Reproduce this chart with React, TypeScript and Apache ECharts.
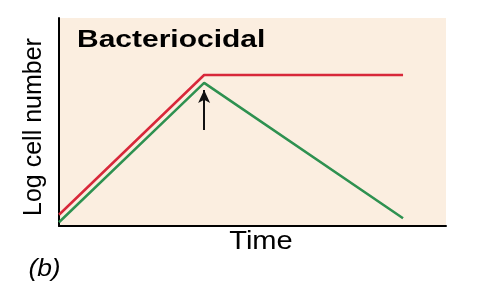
import React, { useEffect, useRef } from "react";
import * as echarts from "echarts";

// Time (arbitrary units 0..100) and log cell number (arbitrary 0..100)
const timePoints = [0, 37.5, 88.9];
const controlSeries = [5.4, 72.6, 72.6]; // red
const bactericidalSeries = [1.8, 68.8, 3.7]; // green
const arrowTime = 37.5;
const arrowFromTo = [46.2, 65.4];

const titleText = "Bacteriocidal";
const xAxisName = "Time";
const yAxisName = "Log cell number";
const panelLabel = "(b)";

export default function App() {
  const ref = useRef<HTMLDivElement>(null);
  useEffect(() => {
    if (!ref.current) return;
    const chart = echarts.init(ref.current, null, { renderer: "svg" });
    const font = "Liberation Sans, Arial, Helvetica, sans-serif";
    chart.setOption({
      animation: false,
      grid: {
        left: 59,
        top: 18,
        width: 387,
        height: 208,
        show: true,
        backgroundColor: "#fbeee0",
        borderWidth: 0,
      },
      xAxis: {
        type: "value",
        min: 0,
        max: 100,
        axisLine: { show: true, lineStyle: { color: "#000", width: 2 } },
        axisTick: { show: false },
        axisLabel: { show: false },
        splitLine: { show: false },
      },
      yAxis: {
        type: "value",
        min: 0,
        max: 100,
        axisLine: { show: true, lineStyle: { color: "#000", width: 2 } },
        axisTick: { show: false },
        axisLabel: { show: false },
        splitLine: { show: false },
      },
      series: [
        {
          type: "line",
          data: timePoints.map((t, i) => [t, controlSeries[i]]),
          symbol: "none",
          lineStyle: { color: "#d8283a", width: 2.5 },
          z: 3,
        },
        {
          type: "line",
          data: timePoints.map((t, i) => [t, bactericidalSeries[i]]),
          symbol: "none",
          lineStyle: { color: "#2e9150", width: 2.5 },
          z: 3,
          markLine: {
            silent: true,
            symbol: ["none", "arrow"],
            symbolSize: [9, 13],
            label: { show: false },
            lineStyle: { color: "#111", width: 2, type: "solid" },
            data: [
              [
                { coord: [arrowTime, arrowFromTo[0]] },
                { coord: [arrowTime, arrowFromTo[1]] },
              ],
            ],
          },
        },
      ],
      graphic: [
        {
          type: "text",
          x: 77,
          y: 38.5,
          scaleX: 1.25,
          style: {
            text: titleText,
            font: `bold 24px ${font}`,
            fill: "#000",
            align: "left",
            verticalAlign: "middle",
          },
        },
        {
          type: "text",
          x: 261,
          y: 240,
          scaleX: 1.12,
          style: {
            text: xAxisName,
            font: `26px ${font}`,
            fill: "#000",
            align: "center",
            verticalAlign: "middle",
          },
        },
        {
          type: "text",
          x: 32,
          y: 127,
          rotation: Math.PI / 2,
          style: {
            text: yAxisName,
            font: `25px ${font}`,
            fill: "#000",
            align: "center",
            verticalAlign: "middle",
          },
        },
        {
          type: "text",
          x: 44.5,
          y: 267,
          scaleX: 1.1,
          style: {
            text: panelLabel,
            font: `italic 24px ${font}`,
            fill: "#000",
            align: "center",
            verticalAlign: "middle",
          },
        },
      ],
    });
    return () => chart.dispose();
  }, []);
  return (
    <div
      ref={ref}
      style={{ position: "fixed", left: 0, top: 0, width: 484, height: 286 }}
    />
  );
}
